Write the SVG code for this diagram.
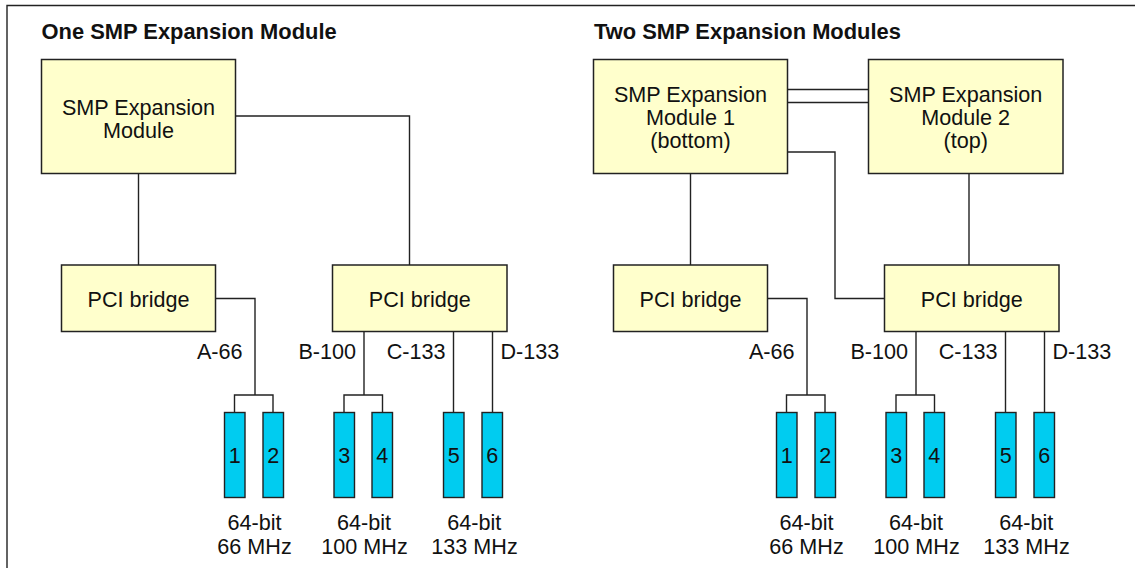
<svg xmlns="http://www.w3.org/2000/svg" width="1135" height="568" viewBox="0 0 1135 568">
  <style>
    .box { fill: #ffffcc; stroke: #222; stroke-width: 1.5; }
    .slot { fill: #00ccf0; stroke: #222; stroke-width: 1.4; }
    .wire { fill: none; stroke: #222; stroke-width: 1.4; }
    text { font-family: "Liberation Sans", Arial, sans-serif; font-size: 21.6px; fill: #111; }
    .title { font-weight: bold; font-size: 21.9px; }
    .c { text-anchor: middle; }
    .e { text-anchor: end; }
  </style>

  <rect width="1135" height="568" fill="#fff"/>
  <!-- frame -->
  <path class="wire" d="M7 568 V5.5 H1135"/>

  <text class="title" x="41.5" y="39">One SMP Expansion Module</text>
  <text class="title" x="594" y="39">Two SMP Expansion Modules</text>

  <!-- connectors -->
  <g id="connectors" class="wire">
    <!-- single module layout -->
    <path d="M138.5 173.5 V265"/>
    <path d="M235.5 116 H409.5 V265"/>
    <path d="M215.5 298.5 H255 V395"/>
    <path d="M234.5 412.5 V395 H273 V412.5"/>
    <path d="M364 331.5 V395"/>
    <path d="M344 412.5 V395 H382.5 V412.5"/>
    <path d="M453.5 331.5 V412.5"/>
    <path d="M492.5 331.5 V412.5"/>
    <!-- two module layout -->
    <path d="M787.5 89.5 H868.5"/>
    <path d="M787.5 102.5 H868.5"/>
    <path d="M787.5 152 H835 V298.5 H884.5"/>
    <path d="M690.5 173.5 V265"/>
    <path d="M969 173.5 V265"/>
    <path d="M767.5 298.5 H807 V395"/>
    <path d="M786.5 412.5 V395 H825 V412.5"/>
    <path d="M916 331.5 V395"/>
    <path d="M896 412.5 V395 H934.5 V412.5"/>
    <path d="M1005.5 331.5 V412.5"/>
    <path d="M1044.5 331.5 V412.5"/>
  </g>

  <!-- single module layout nodes -->
  <g id="smp-module">
    <rect class="box" x="41.5" y="59.5" width="194" height="114"/>
    <text class="c" x="138.5" y="114.5">SMP Expansion</text>
    <text class="c" x="138.5" y="137.5">Module</text>
  </g>
  <g id="pci-bridge-a">
    <rect class="box" x="61.5" y="265" width="154" height="66.5"/>
    <text class="c" x="138.5" y="307">PCI bridge</text>
  </g>
  <g id="pci-bridge-bcd">
    <rect class="box" x="332.5" y="265" width="174.5" height="66.5"/>
    <text class="c" x="419.75" y="307">PCI bridge</text>
  </g>
  <g id="bus-labels-1">
    <text class="e" x="242.5" y="359">A-66</text>
    <text class="e" x="356" y="359">B-100</text>
    <text class="e" x="445.5" y="359">C-133</text>
    <text x="500.5" y="359">D-133</text>
  </g>
  <g id="slot-1-1"><rect class="slot" x="224.5" y="412.5" width="20.5" height="85"/><text class="c" x="234.75" y="463">1</text></g>
  <g id="slot-1-2"><rect class="slot" x="263" y="412.5" width="20.5" height="85"/><text class="c" x="273.25" y="463">2</text></g>
  <g id="slot-1-3"><rect class="slot" x="334" y="412.5" width="20.5" height="85"/><text class="c" x="344.25" y="463">3</text></g>
  <g id="slot-1-4"><rect class="slot" x="372" y="412.5" width="20.5" height="85"/><text class="c" x="382.25" y="463">4</text></g>
  <g id="slot-1-5"><rect class="slot" x="443.5" y="412.5" width="20.5" height="85"/><text class="c" x="453.75" y="463">5</text></g>
  <g id="slot-1-6"><rect class="slot" x="482" y="412.5" width="20.5" height="85"/><text class="c" x="492.25" y="463">6</text></g>
  <g id="speed-labels-1">
    <text class="c" x="254.5" y="530">64-bit</text>
    <text class="c" x="254.5" y="554">66 MHz</text>
    <text class="c" x="364" y="530">64-bit</text>
    <text class="c" x="364.5" y="554">100 MHz</text>
    <text class="c" x="474.2" y="530">64-bit</text>
    <text class="c" x="474.5" y="554">133 MHz</text>
  </g>

  <!-- two module layout nodes -->
  <g id="smp-module-1">
    <rect class="box" x="593.5" y="59.5" width="194" height="114"/>
    <text class="c" x="690.5" y="102">SMP Expansion</text>
    <text class="c" x="690.5" y="125">Module 1</text>
    <text class="c" x="690.5" y="148">(bottom)</text>
  </g>
  <g id="smp-module-2">
    <rect class="box" x="868.5" y="59.5" width="194.5" height="114"/>
    <text class="c" x="965.7" y="102">SMP Expansion</text>
    <text class="c" x="965.7" y="125">Module 2</text>
    <text class="c" x="965.7" y="148">(top)</text>
  </g>
  <g id="pci-bridge-a2">
    <rect class="box" x="613.5" y="265" width="154" height="66.5"/>
    <text class="c" x="690.5" y="307">PCI bridge</text>
  </g>
  <g id="pci-bridge-bcd2">
    <rect class="box" x="884.5" y="265" width="174.5" height="66.5"/>
    <text class="c" x="971.75" y="307">PCI bridge</text>
  </g>
  <g id="bus-labels-2">
    <text class="e" x="794.5" y="359">A-66</text>
    <text class="e" x="908" y="359">B-100</text>
    <text class="e" x="997.5" y="359">C-133</text>
    <text x="1052.5" y="359">D-133</text>
  </g>
  <g id="slot-2-1"><rect class="slot" x="776.5" y="412.5" width="20.5" height="85"/><text class="c" x="786.75" y="463">1</text></g>
  <g id="slot-2-2"><rect class="slot" x="815" y="412.5" width="20.5" height="85"/><text class="c" x="825.25" y="463">2</text></g>
  <g id="slot-2-3"><rect class="slot" x="886" y="412.5" width="20.5" height="85"/><text class="c" x="896.25" y="463">3</text></g>
  <g id="slot-2-4"><rect class="slot" x="924" y="412.5" width="20.5" height="85"/><text class="c" x="934.25" y="463">4</text></g>
  <g id="slot-2-5"><rect class="slot" x="995.5" y="412.5" width="20.5" height="85"/><text class="c" x="1005.75" y="463">5</text></g>
  <g id="slot-2-6"><rect class="slot" x="1034" y="412.5" width="20.5" height="85"/><text class="c" x="1044.25" y="463">6</text></g>
  <g id="speed-labels-2">
    <text class="c" x="806.5" y="530">64-bit</text>
    <text class="c" x="806.5" y="554">66 MHz</text>
    <text class="c" x="916" y="530">64-bit</text>
    <text class="c" x="916.5" y="554">100 MHz</text>
    <text class="c" x="1026.2" y="530">64-bit</text>
    <text class="c" x="1026.5" y="554">133 MHz</text>
  </g>
</svg>
